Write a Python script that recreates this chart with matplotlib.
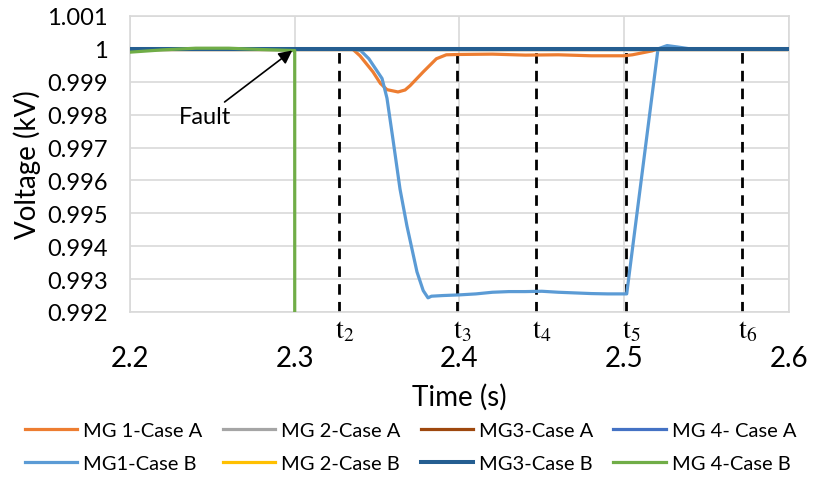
import matplotlib
matplotlib.use("Agg")
import matplotlib.pyplot as plt
from matplotlib.ticker import FixedLocator, FuncFormatter

plt.rcParams["font.family"] = ["Lato", "DejaVu Sans"]
plt.rcParams["mathtext.fontset"] = "stix"

# --- données ---
t_flat = [2.2, 2.6]
v_flat = [1.0, 1.0]

t_mg1a = [2.2, 2.335, 2.3396, 2.3475, 2.352, 2.356, 2.3627, 2.367, 2.370, 2.378,
          2.386, 2.392, 2.40, 2.42, 2.44, 2.46, 2.48, 2.50, 2.505, 2.517, 2.52, 2.6]
v_mg1a = [1.0, 1.0, 0.99979, 0.9993, 0.99895, 0.99876, 0.99869, 0.99875, 0.99888, 0.9993,
          0.9997, 0.99982, 0.99983, 0.99984, 0.99981, 0.99982, 0.99979, 0.99979, 0.99982, 0.99994, 1.0, 1.0]

t_mg1b = [2.2, 2.335, 2.340, 2.345, 2.349, 2.353, 2.356, 2.3596, 2.3639, 2.3681, 2.3742,
          2.378, 2.3809, 2.383, 2.39, 2.40, 2.41, 2.42, 2.43, 2.44, 2.45, 2.46, 2.47,
          2.48, 2.49, 2.5015, 2.5205, 2.526, 2.532, 2.54, 2.6]
v_mg1b = [1.0, 1.0, 0.99995, 0.9997, 0.9994, 0.9991, 0.9985, 0.99726, 0.99574, 0.99462, 0.99322,
          0.99265, 0.99243, 0.99248, 0.9925, 0.99252, 0.99255, 0.9926, 0.99262, 0.99262, 0.99263, 0.9926, 0.99258,
          0.99256, 0.99255, 0.99255, 1.0, 1.0001, 1.00006, 1.0, 1.0]

t_mg4b = [2.2, 2.22, 2.24, 2.26, 2.28, 2.299, 2.3, 2.3, 2.6]
v_mg4b = [0.9999, 0.99997, 1.00002, 1.00002, 0.99998, 0.99995, 0.99995, 0.985, 0.985]

t_marks = [2.327, 2.3988, 2.4465, 2.501, 2.5716]
t_names = ["2", "3", "4", "5", "6"]

labels = ["MG 1-Case A", "MG 2-Case A", "MG3-Case A", "MG 4- Case A",
          "MG1-Case B", "MG 2-Case B", "MG3-Case B", "MG 4-Case B"]
colors = ["#ED7D31", "#A5A5A5", "#9E480E", "#4472C4",
          "#5B9BD5", "#FFC000", "#255E91", "#70AD47"]

series = [(t_mg1a, v_mg1a), (t_flat, v_flat), (t_flat, v_flat), (t_flat, v_flat),
          (t_mg1b, v_mg1b), (t_flat, v_flat), (t_flat, v_flat), (t_mg4b, v_mg4b)]

fig = plt.figure(figsize=(8.21, 4.81), dpi=100)
ax = fig.add_axes([0.1583, 0.3493, 0.8027, 0.6154])

handles = []
for i, (t, v) in enumerate(series):
    lw = 2.9 if i == 6 else 2.3
    h, = ax.plot(t, v, color=colors[i], lw=lw, label=labels[i], zorder=2 + i * 0.1)
    handles.append(h)

# lignes verticales pointillées t2..t6
for tm, nm in zip(t_marks, t_names):
    ax.plot([tm, tm], [0.992, 0.99991], color="black", lw=2.0,
            dashes=(3.8, 2.6), zorder=1.9)
    ax.text(tm - 0.0025, 0.99185, r"$\mathrm{t}_{%s}$" % nm, fontsize=20,
            ha="left", va="top", clip_on=False)

ax.set_xlim(2.2, 2.6)
ax.set_ylim(0.992, 1.001)
ax.xaxis.set_major_locator(FixedLocator([2.2, 2.3, 2.4, 2.5, 2.6]))
ax.yaxis.set_major_locator(FixedLocator([0.992 + 0.001 * k for k in range(10)]))
ax.xaxis.set_major_formatter(FuncFormatter(lambda x, p: "%g" % round(x, 3)))
ax.yaxis.set_major_formatter(FuncFormatter(lambda y, p: "%g" % round(y, 3)))
ax.grid(True, color="#D9D9D9", lw=1.2, zorder=0)
ax.set_axisbelow(True)
for s in ax.spines.values():
    s.set_color("#D9D9D9")
    s.set_linewidth(1.2)
ax.tick_params(axis="both", length=0)
ax.tick_params(axis="x", labelsize=20, pad=24)
ax.tick_params(axis="y", labelsize=17, pad=16)

ax.set_xlabel("Time (s)", fontsize=20, labelpad=8)
ax.set_ylabel("Voltage (kV)", fontsize=20, labelpad=4)

ax.annotate("Fault", xy=(2.2985, 0.99995), xytext=(2.2455, 0.99793),
            fontsize=17, ha="center", va="center",
            arrowprops=dict(arrowstyle="-|>", color="black", lw=1.2,
                            mutation_scale=20, shrinkA=2, shrinkB=0))

order = [0, 4, 1, 5, 2, 6, 3, 7]
fig.legend([handles[i] for i in order], [labels[i] for i in order],
           loc="lower center", bbox_to_anchor=(0.5, 0.0), borderaxespad=0.0,
           ncol=4, frameon=False, fontsize=14.5, handlelength=2.6, handletextpad=0.3,
           columnspacing=1.0, labelspacing=0.8)

fig.savefig("out.png", dpi=100)
